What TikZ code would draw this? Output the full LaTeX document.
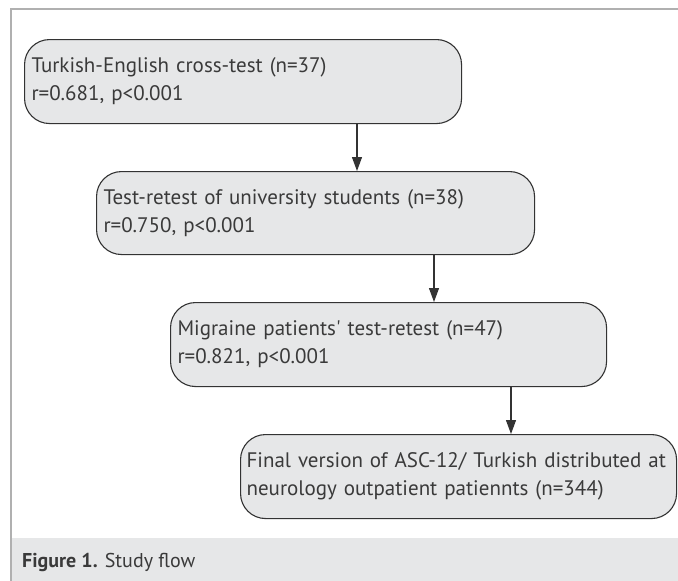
\documentclass[tikz,border=0pt]{standalone}
\usepackage{fontspec}
\setmainfont{PT Sans}[Ligatures=TeXOff]
\usetikzlibrary{arrows.meta}
\definecolor{boxfill}{HTML}{E6E7E8}
\definecolor{boxline}{HTML}{333333}
\definecolor{framecol}{HTML}{B0B0B0}
\definecolor{textcol}{HTML}{3A3A3A}
\tikzset{
  flowbox/.style={draw=boxline, fill=boxfill, line width=1.1pt, rounded corners=25pt,
    anchor=north west, inner xsep=7pt, inner ysep=0pt, align=left, text=textcol,
    font=\fontsize{21}{28}\selectfont},
  flowarrow/.style={draw=boxline, line width=1.1pt, -{Triangle[length=14pt,width=10pt]}},
}
\begin{document}
\begin{tikzpicture}[x=1pt,y=1pt]
\useasboundingbox (0,0) rectangle (678,-581);
% frame
\fill[boxfill] (11,-538) rectangle (678,-581);
\draw[framecol, line width=1.2pt] (11,-581) -- (11,-9) -- (678,-9);
% boxes
\node[flowbox, minimum width=437pt, minimum height=84pt, text width=423pt] (b1) at (24,-39)
  {\mbox{Turkish-English cross-test (n=37)}\\\mbox{r=0.681, p<0.001}};
\node[flowbox, minimum width=438pt, minimum height=83pt, text width=424pt] (b2) at (96,-171)
  {\mbox{Test-retest of university students (n=38)}\\\mbox{r=0.750, p<0.001}};
\node[flowbox, minimum width=436pt, minimum height=84pt, text width=422pt] (b3) at (170,-302)
  {\mbox{Migraine patients' test-retest (n=47)}\\\mbox{r=0.821, p<0.001}};
\node[flowbox, minimum width=436pt, minimum height=84pt, text width=424pt, inner xsep=6pt] (b4) at (240,-434)
  {\mbox{Final version of ASC-12/ Turkish distributed at}\\\mbox{neurology outpatient patiennts (n=344)}};
% arrows
\draw[flowarrow] (b1.south -| 357,0) -- (b2.north -| 357,0);
\draw[flowarrow] (b2.south -| 434,0) -- (b3.north -| 434,0);
\draw[flowarrow] (b3.south -| 511,0) -- (b4.north -| 511,0);
% caption
\node[anchor=base west, inner sep=0pt, text=textcol, font=\fontsize{20}{24}\selectfont] (cap) at (22,-567)
  {\textbf{Figure 1.} Study flow};
\end{tikzpicture}
\end{document}
